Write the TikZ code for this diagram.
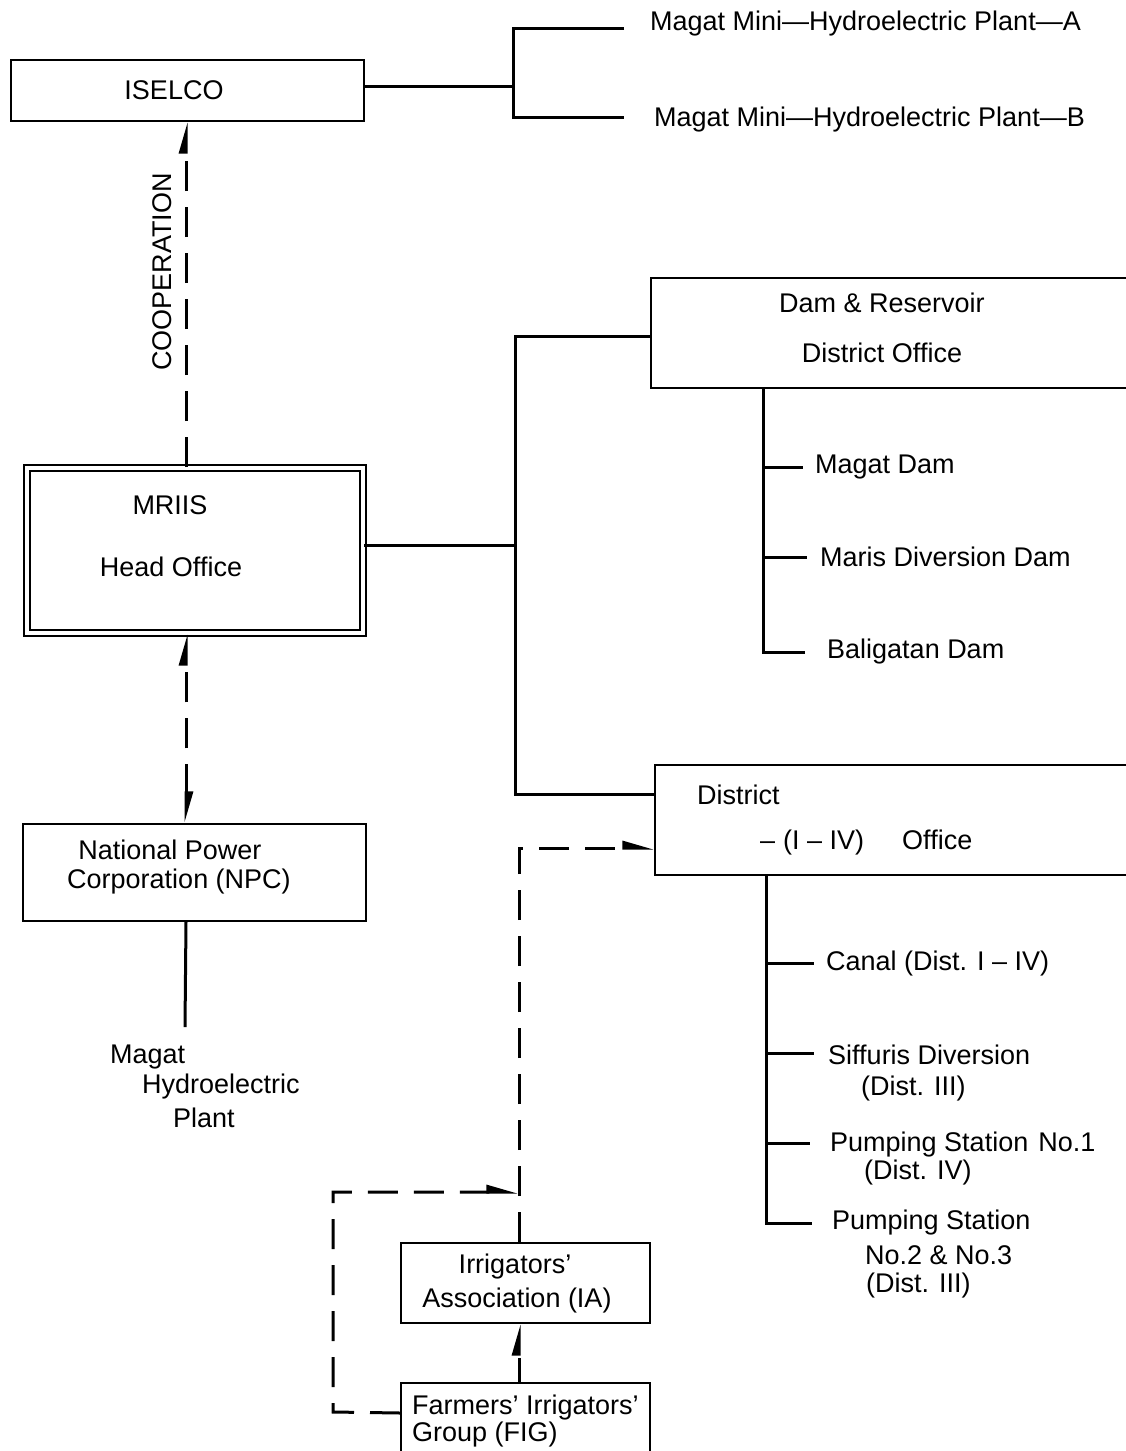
\documentclass[tikz,border=0pt]{standalone}
\usepackage{fontspec}
\setmainfont{Liberation Sans}
\usetikzlibrary{arrows.meta}
\begin{document}
\begin{tikzpicture}[x=1pt,y=-1pt,
  box/.style={draw, line width=2pt, inner sep=0pt, anchor=north west},
  conn/.style={line width=3pt},
  dashline/.style={line width=3pt, dash pattern=on 30pt off 16pt},
  txt/.style={font=\fontsize{27}{32}\selectfont, inner sep=0pt},
  >={Triangle[harpoon,length=26pt,width=14pt]}]
\useasboundingbox (0,0) rectangle (1126,1451);
\clip (0,0) rectangle (1126,1451);
\fill[white] (0,0) rectangle (1126,1451);

% boxes
\node[box, minimum width=353pt, minimum height=61pt] (iselco) at (10,59) {};
\node[box, double, double distance=4pt, minimum width=336pt, minimum height=165pt] (mriis) at (26,467) {};
\node[box, minimum width=343pt, minimum height=97pt] (npc) at (22,823) {};
\node[box, minimum width=520pt, minimum height=110pt] (dam) at (650,277) {};
\node[box, minimum width=520pt, minimum height=110pt] (district) at (654,764) {};
\node[box, minimum width=249pt, minimum height=80pt] (ia) at (400,1242) {};
\node[box, minimum width=249pt, minimum height=90pt] (fig) at (400,1382) {};

% texts
\node[txt] (tiselco) at (174,90) {ISELCO};
\node[txt] (tmriis) at (170,505) {MRIIS};
\node[txt] (thead) at (171,567) {Head Office};
\node[txt] (coop) at (162,272) [rotate=90] {COOPERATION};
\node[txt] (npc1) at (170,850) {National Power};
\node[txt] (npc2) at (179,882) {Corporation (NPC)};
\node[txt, anchor=west] (mhp1) at (110,1057) {Magat};
\node[txt, anchor=west] (mhp2) at (142,1087) {Hydroelectric};
\node[txt, anchor=west] (mhp3) at (173,1118) {Plant};
\node[txt, anchor=west] (plantA) at (650,24) {Magat Mini---Hydroelectric Plant---A};
\node[txt, anchor=west] (plantB) at (654,120) {Magat Mini---Hydroelectric Plant---B};
\node[txt] (dam1) at (882,303) {Dam \& Reservoir};
\node[txt] (dam2) at (882,353) {District Office};
\node[txt, anchor=west] (magatdam) at (815,467) {Magat Dam};
\node[txt, anchor=west] (maris) at (820,557) {Maris Diversion Dam};
\node[txt, anchor=west] (bali) at (827,652) {Baligatan Dam};
\node[txt, anchor=west] (dist1) at (697,795) {District};
\node[txt, anchor=west] (dist2) at (760,843) {--\hspace{8pt}(I -- IV)\hspace{38pt}Office};
\node[txt, anchor=west] (canal) at (826,963) {Canal (Dist. I -- IV)};
\node[txt, anchor=west] (siff1) at (828,1055) {Siffuris Diversion};
\node[txt, anchor=west] (siff2) at (861,1088) {(Dist. III)};
\node[txt, anchor=west] (pump1) at (830,1145) {Pumping Station\hspace{10pt}No.1};
\node[txt, anchor=west] (pump1b) at (864,1172) {(Dist. IV)};
\node[txt, anchor=west] (pump2) at (832,1223) {Pumping Station};
\node[txt, anchor=west] (pump2b) at (865,1255) {No.2 \& No.3};
\node[txt, anchor=west] (pump2c) at (866,1285) {(Dist. III)};
\node[txt] (ia1) at (515,1267) {Irrigators'};
\node[txt] (ia2) at (517,1300) {Association (IA)};
\node[txt, anchor=west] (fig1) at (412,1408) {Farmers' Irrigators'};
\node[txt, anchor=west] (fig2) at (412,1435) {Group (FIG)};

% coordinates
\coordinate (br) at (513,86);
\coordinate (mj) at (515,545);
\coordinate (dtop) at (763,387);
\coordinate (dtop2) at (766,874);
\coordinate (plantTop) at (185,1027);
\coordinate (loopL) at (333,1412);
\coordinate (loopEnd) at (518,1192);

% ISELCO bracket
\draw[conn] (iselco.east |- br) -- (br);
\draw[conn] ([xshift=-26pt,yshift=-4pt]plantA.west) -| (br) |- ([xshift=-30pt,yshift=3pt]plantB.west);

% MRIIS to offices
\draw[conn] (mriis.east |- mj) -- (mj);
\draw[conn] ([yshift=-3pt]dam.west) -| (mj) |- ([yshift=26pt]district.west);

% Dam branches
\draw[conn] (dtop) |- ([xshift=-22pt]bali.west);
\draw[conn] (dtop |- magatdam.west) -- ([xshift=-12pt]magatdam.west);
\draw[conn] (dtop |- maris.west) -- ([xshift=-13pt]maris.west);

% District branches
\draw[conn] (dtop2) |- ([xshift=-20pt]pump2.west);
\draw[conn] (dtop2 |- canal.west) -- ([xshift=-12pt]canal.west);
\draw[conn] ([yshift=2pt]dtop2 |- siff1.west) -- ([xshift=-14pt,yshift=2pt]siff1.west);
\draw[conn] ([yshift=2pt]dtop2 |- pump1.west) -- ([xshift=-20pt,yshift=2pt]pump1.west);

% cooperation
\draw[dashline,->] ([xshift=-9pt]mriis.north) -- ([xshift=-9pt]mriis.north |- iselco.south);
\draw[dashline,<->] ([xshift=-8.5pt]npc.north) -- ([xshift=-8.5pt]npc.north |- mriis.south);
\draw[conn] ([xshift=-8.5pt]npc.south) -- (plantTop);

% farmers
\draw[dashline,->] ([xshift=-6.5pt]ia.north) |- ([yshift=-28pt]district.west);
\draw[line width=3pt, dash pattern=on 24pt off 14pt,->] ([xshift=-6.5pt]fig.north) -- ([xshift=-6.5pt]ia.south);
\draw[dashline,->] ([yshift=15pt]fig.west) -- (loopL) |- (loopEnd);
\end{tikzpicture}
\end{document}
